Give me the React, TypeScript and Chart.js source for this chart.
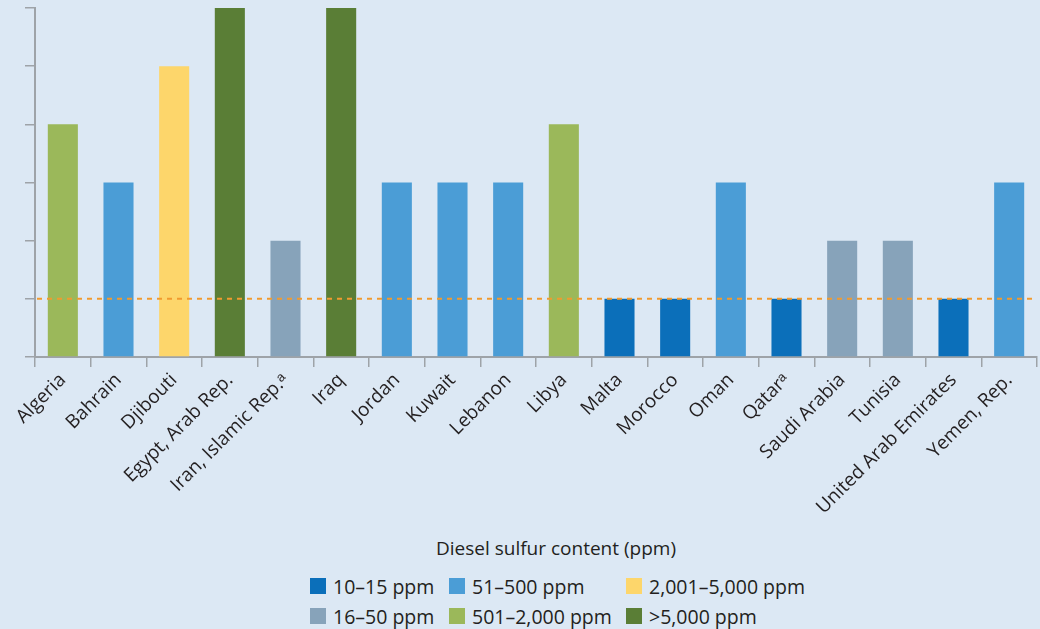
import React, { useEffect, useRef } from "react";
import { Chart, registerables } from "chart.js";

Chart.register(...registerables);

const countries = [
  "Algeria",
  "Bahrain",
  "Djibouti",
  "Egypt, Arab Rep.",
  "Iran, Islamic Rep.ᵃ",
  "Iraq",
  "Jordan",
  "Kuwait",
  "Lebanon",
  "Libya",
  "Malta",
  "Morocco",
  "Oman",
  "Qatarᵃ",
  "Saudi Arabia",
  "Tunisia",
  "United Arab Emirates",
  "Yemen, Rep.",
];

// sulfur category level (1 = 10–15 ppm ... 6 = >5,000 ppm)
const levels = [4, 3, 5, 6, 2, 6, 3, 3, 3, 4, 1, 1, 3, 1, 2, 2, 1, 3];

const levelColors = ["#0b6fba", "#87a3ba", "#4b9dd6", "#9bb85a", "#fdd66b", "#5a7e36"];
const legendLabels = ["10–15 ppm", "16–50 ppm", "51–500 ppm", "501–2,000 ppm", "2,001–5,000 ppm", ">5,000 ppm"];
const legendTitle = "Diesel sulfur content (ppm)";
const thresholdLevel = 1;
const yMax = 6;

const FONT = "'Open Sans', sans-serif";
const BG = "#dce8f4";
const AXIS = "#9ea3a8";
const TEXT = "#231f20";

export default function App() {
  const ref = useRef<HTMLCanvasElement | null>(null);

  useEffect(() => {
    if (!ref.current) return;
    const thresholdPlugin = {
      id: "threshold",
      afterDatasetsDraw(chart: any) {
        const { ctx, chartArea, scales } = chart;
        const y = scales.y.getPixelForValue(thresholdLevel);
        ctx.save();
        ctx.strokeStyle = "#f29a2e";
        ctx.lineWidth = 2;
        ctx.setLineDash([5, 5]);
        ctx.beginPath();
        ctx.moveTo(chartArea.left + 2, y);
        ctx.lineTo(chartArea.right, y);
        ctx.stroke();
        ctx.restore();
      },
    };
    const chart = new Chart(ref.current, {
      type: "bar",
      data: {
        labels: countries,
        datasets: [
          {
            data: levels,
            backgroundColor: levels.map((l) => levelColors[l - 1]),
            borderWidth: 0,
            categoryPercentage: 1,
            barPercentage: 0.54,
          },
        ],
      },
      options: {
        animation: false,
        responsive: false,
        maintainAspectRatio: false,
        layout: { padding: { left: 25, right: 3, top: 8, bottom: 0 } },
        plugins: { legend: { display: false }, tooltip: { enabled: false } },
        scales: {
          x: {
            afterFit: (axis: any) => {
              axis.height = 173;
            },
            grid: {
              display: true,
              drawOnChartArea: false,
              drawTicks: true,
              tickLength: 10,
              color: AXIS,
              lineWidth: 1.5,
            },
            border: { display: true, color: AXIS, width: 2 },
            ticks: {
              minRotation: 45,
              maxRotation: 45,
              autoSkip: false,
              color: TEXT,
              padding: 2,
              font: { family: FONT, size: 19 },
            },
          },
          y: {
            min: 0,
            max: yMax,
            afterFit: (axis: any) => {
              axis.width = 10;
            },
            grid: {
              display: true,
              drawOnChartArea: false,
              drawTicks: true,
              tickLength: 10,
              color: AXIS,
              lineWidth: 1.5,
            },
            border: { display: true, color: AXIS, width: 2 },
            ticks: { display: false, stepSize: 1 },
          },
        },
      },
      plugins: [thresholdPlugin],
    } as any);
    return () => chart.destroy();
  }, []);

  const colX = [310, 449, 626];
  const rowY = [578, 608];
  const order = [
    [0, 0, 0],
    [1, 0, 1],
    [2, 1, 0],
    [3, 1, 1],
    [4, 2, 0],
    [5, 2, 1],
  ];

  return (
    <div
      style={{
        position: "fixed",
        left: 0,
        top: 0,
        width: 1040,
        height: 629,
        background: BG,
        overflow: "hidden",
        fontFamily: FONT,
        color: TEXT,
      }}
    >
      <canvas
        ref={ref}
        width={1040}
        height={530}
        style={{ position: "absolute", left: 0, top: 0, width: 1040, height: 530 }}
      />
      <div
        style={{
          position: "absolute",
          left: 0,
          width: 1112,
          top: 534,
          textAlign: "center",
          fontSize: 19,
          lineHeight: "28px",
        }}
      >
        {legendTitle}
      </div>
      {order.map(([i, c, r]) => (
        <div
          key={i}
          style={{
            position: "absolute",
            left: colX[c],
            top: rowY[r],
            display: "flex",
            alignItems: "center",
            height: 16,
            fontSize: 19.5,
            whiteSpace: "nowrap",
          }}
        >
          <span
            style={{
              display: "inline-block",
              width: 16,
              height: 16,
              background: levelColors[i],
              marginRight: 7,
              flex: "none",
            }}
          />
          <span>{legendLabels[i]}</span>
        </div>
      ))}
    </div>
  );
}
